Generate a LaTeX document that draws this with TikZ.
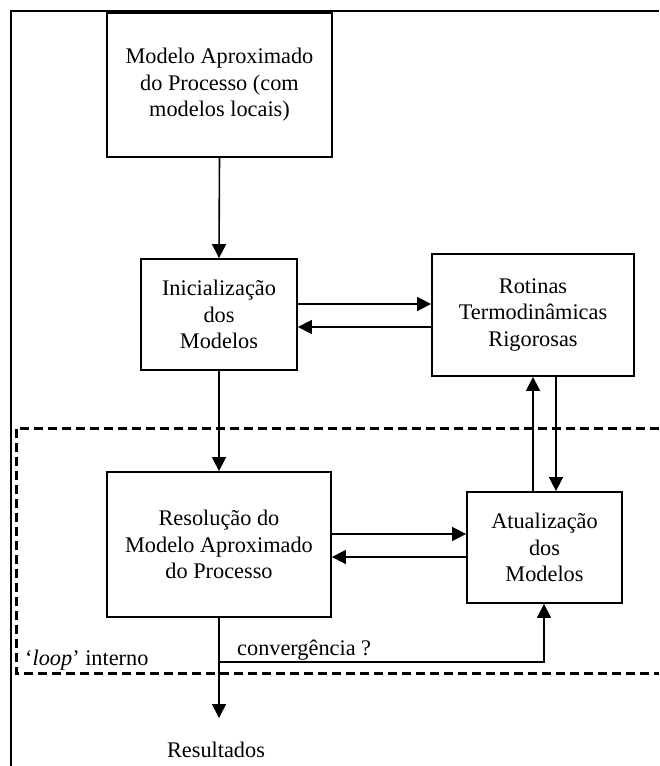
\documentclass[tikz,border=0pt]{standalone}
\usepackage{fontspec}
\setmainfont{Liberation Serif}
\usetikzlibrary{arrows.meta}
\begin{document}
\begin{tikzpicture}[x=1pt,y=-1pt,
  box/.style={draw,line width=1.8pt,align=center,inner sep=0pt,
    font=\fontsize{22.3}{26.5}\selectfont},
  arr/.style={line width=1.6pt,-{Triangle[length=14pt,width=14pt]}},
  lbl/.style={inner sep=0pt,font=\fontsize{22.3}{26.5}\selectfont},
  loopline/.style={line width=3pt,dash pattern=on 9pt off 5pt}]
\useasboundingbox (0,0) rectangle (659,766);
% outer frame
\draw[line width=2.2pt] (11,766) -- (11,11) -- (659,11);
% dashed inner loop region
\draw[loopline] (659,428) -- (16,428) -- (16,673) -- (659,673);
% boxes
\node[box,minimum width=225pt,minimum height=144pt] (b1) at (219.5,85)
  {Modelo Aproximado\\do Processo (com\\modelos locais)};
\node[box,minimum width=156pt,minimum height=111pt] (b2) at (219,314.5)
  {Inicialização\\dos\\Modelos};
\node[box,minimum width=202pt,minimum height=122pt] (b3) at (533,315)
  {Rotinas\\Termodinâmicas\\Rigorosas};
\node[box,minimum width=224pt,minimum height=145pt] (b4) at (219,544.5)
  {Resolução do\\Modelo Aproximado\\do Processo};
\node[box,minimum width=155pt,minimum height=111pt] (b5) at (544.5,547.5)
  {Atualização\\dos\\Modelos};
% labels
\node[lbl] (res) at (216,750) {Resultados};
\node[lbl,anchor=west] (loop) at (25,660) {‘\textit{loop}’ interno};
\node[lbl,anchor=west] (conv) at (237,650) {convergência ?};
\coordinate (resend) at (219,718);
\coordinate (c1) at (219,662);
\coordinate (c2) at (544,662);
% connectors
\draw[arr] (b1.south) -- (b2.north);
\draw[arr] (b2.east |- 0,304) -- (b3.west |- 0,304);
\draw[arr] (b3.west |- 0,327) -- (b2.east |- 0,327);
\draw[arr] (b2.south) -- (b4.north);
\draw[arr] (b4.east |- 0,534) -- (b5.west |- 0,534);
\draw[arr] (b5.west |- 0,557) -- (b4.east |- 0,557);
\draw[arr] (b5.north -| 533,0) -- (b3.south -| 533,0);
\draw[arr] (b3.south -| 556,0) -- (b5.north -| 556,0);
\draw[arr] (b4.south) -- (resend);
\draw[arr] (c1) -- (c2) -- (b5.south -| c2);
\end{tikzpicture}
\end{document}
